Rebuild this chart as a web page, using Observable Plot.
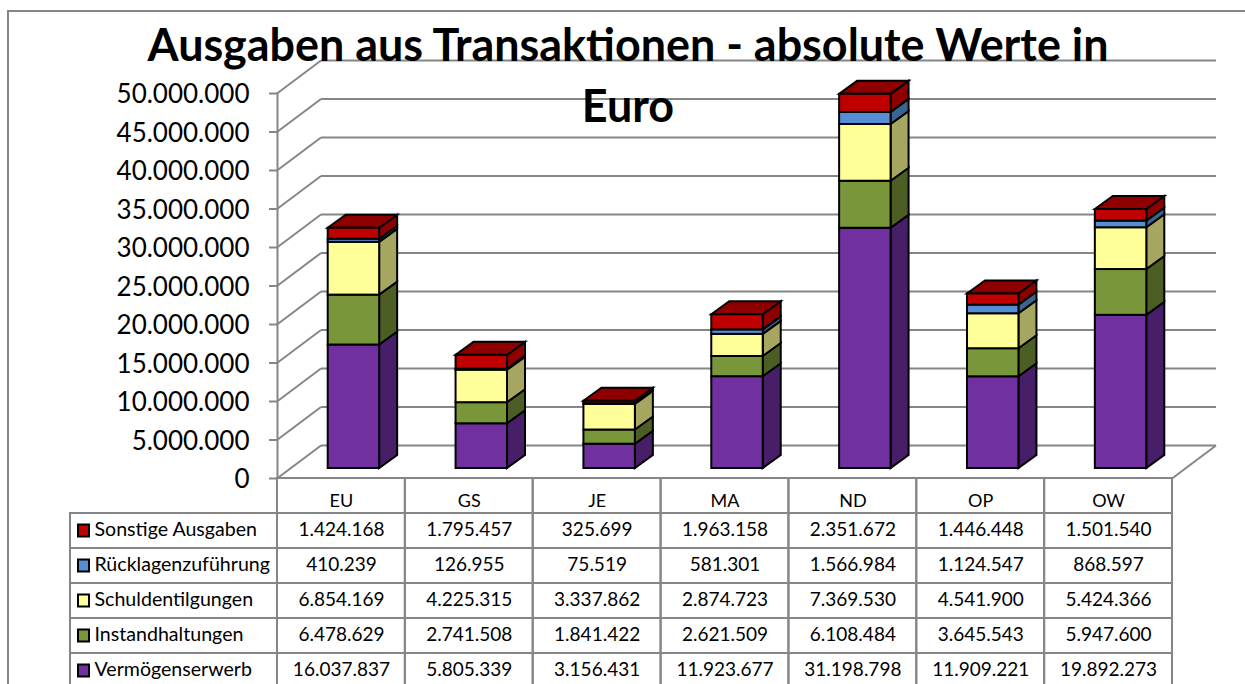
<!DOCTYPE html>
<html lang="de">
<head>
<meta charset="utf-8">
<title>Ausgaben aus Transaktionen</title>
<script src="https://cdn.jsdelivr.net/npm/d3@7"></script>
<script src="https://cdn.jsdelivr.net/npm/@observablehq/plot@0.6"></script>
<style>
html,body{margin:0;padding:0;background:#fff;overflow:hidden;}
#page{position:relative;width:1245px;height:684px;overflow:hidden;font-family:Lato,sans-serif;}
#page svg{display:block;}
#frame{position:absolute;left:7px;top:10px;width:1300px;height:700px;border:2px solid #868686;box-sizing:border-box;pointer-events:none;}
h1{position:absolute;left:68px;width:1120px;top:14px;margin:0;text-align:center;font:700 44.9px/61px Lato,sans-serif;color:#000;z-index:2;}
</style>
</head>
<body>
<div id="page">
<div id="frame"></div>
<h1>Ausgaben aus Transaktionen - absolute Werte in<br>Euro</h1>
<div id="chart"></div>
</div>
<script>
const categories = ["EU","GS","JE","MA","ND","OP","OW"];
const seriesBottomUp = ["Vermögenserwerb","Instandhaltungen","Schuldentilgungen","Rücklagenzuführung","Sonstige Ausgaben"];
const vermoegen = [16037837,5805339,3156431,11923677,31198798,11909221,19892273];
const instand   = [6478629,2741508,1841422,2621509,6108484,3645543,5947600];
const schulden  = [6854169,4225315,3337862,2874723,7369530,4541900,5424366];
const ruecklage = [410239,126955,75519,581301,1566984,1124547,868597];
const sonstige  = [1424168,1795457,325699,1963158,2351672,1446448,1501540];
const frontColors = ["#7030A0","#7A963B","#FFFF99","#558ED5","#C00000"];
const sideColors  = ["#471F69","#4C5E23","#A6A661","#3A6491","#8E0000"];
const yTicks = [0,5e6,10e6,15e6,20e6,25e6,30e6,35e6,40e6,45e6,50e6];

const columns = [vermoegen,instand,schulden,ruecklage,sonstige];
const long = seriesBottomUp.flatMap((s,i)=>categories.map((c,j)=>({series:s,category:c,value:columns[i][j],side:sideColors[i]})));
const de = d3.formatLocale({decimal:",",thousands:".",grouping:[3],currency:["","€"]}).format(",d");

const GRID="#868686", W=1245, AXIS_X=277, FLOOR_Y=478, TOP_Y=93, RIGHT=1172;
const wallDx=44, wallDy=-33, barDx=18, barDy=-13;
const bw=(RIGHT-AXIS_X)/categories.length;
const barInset={insetLeft:38.2,insetRight:38.2,dx:12.5,dy:-10};
const xScale={type:"band",domain:categories,padding:0,round:false,axis:null};

// turn each rendered rect (a front face) into a parallelogram
const poly=(shape,keep=()=>true)=>function(index,scales,values,dims,ctx,next){
  const g=next(index.filter(i=>keep(long[i])),scales,values,dims,ctx);
  d3.select(g).selectAll("rect").each(function(){
    const r=d3.select(this),x=+r.attr("x"),y=+r.attr("y"),w=+r.attr("width"),h=+r.attr("height");
    const p=document.createElementNS("http://www.w3.org/2000/svg","polygon");
    p.setAttribute("points",shape(x,y,w,h).join(" "));
    p.setAttribute("fill",r.attr("fill")||"");
    this.replaceWith(p);
  });
  return g;
};
const sideShape=(x,y,w,h)=>[[x+w,y],[x+w+barDx,y+barDy],[x+w+barDx,y+h+barDy],[x+w,y+h]];
const topShape=(x,y,w,h)=>[[x,y],[x+barDx,y+barDy],[x+w+barDx,y+barDy],[x+w,y]];
const obliqueRule=(xFront)=>function(index,scales,values,dims,ctx,next){
  const g=next(index,scales,values,dims,ctx);
  d3.select(g).selectAll("line").attr("x1",xFront).attr("x2",xFront+wallDx)
    .attr("y2",function(){return +d3.select(this).attr("y1")+wallDy;});
  return g;
};
const stackOpts={x:"category",y:"value",z:"series",order:null};

const main=Plot.plot({
  width:W,height:FLOOR_Y,
  marginLeft:AXIS_X,marginRight:W-RIGHT,marginTop:TOP_Y,marginBottom:0,
  style:{background:"transparent",overflow:"visible",fontFamily:"Lato,sans-serif"},
  x:xScale,
  y:{domain:[0,50e6],axis:null},
  color:{domain:seriesBottomUp,range:frontColors},
  marks:[
    Plot.ruleY(yTicks,{stroke:GRID,strokeWidth:2,dx:wallDx,dy:wallDy}),
    Plot.ruleY(yTicks,{stroke:GRID,strokeWidth:2,render:obliqueRule(AXIS_X)}),
    Plot.ruleY([0],{stroke:GRID,strokeWidth:2,render:obliqueRule(RIGHT)}),
    Plot.axisY({ticks:yTicks,tickFormat:null,text:null,anchor:"left",tickSize:8,stroke:GRID,strokeWidth:2,strokeOpacity:1,label:null}),
    Plot.axisY({ticks:yTicks,tickFormat:de,anchor:"left",tickSize:0,tickPadding:28,dy:1.5,fontSize:26,label:null,fill:"#000",color:"#000"}),
    Plot.ruleX([categories[0]],{x:d=>d,y1:0,y2:50e6,dx:-bw/2,stroke:GRID,strokeWidth:2}),
    Plot.barY(long,Plot.stackY({...stackOpts,...barInset,fill:"side",stroke:"#000",strokeWidth:2,render:poly(sideShape)})),
    Plot.barY(long,Plot.stackY({...stackOpts,...barInset,fill:"side",stroke:"#000",strokeWidth:2,render:poly(topShape,d=>d.series===seriesBottomUp[4])})),
    Plot.barY(long,Plot.stackY({...stackOpts,...barInset,fill:"series",stroke:"#000",strokeWidth:2}))
  ]
});

// table below the chart
const rowsTop=seriesBottomUp.slice().reverse();
const rowDomain=["Kategorie",...rowsTop];
const cells=rowsTop.flatMap(s=>long.filter(d=>d.series===s));
const LABEL_LEFT=70;
const table=Plot.plot({
  width:W,height:684-FLOOR_Y,
  marginLeft:AXIS_X,marginRight:W-RIGHT,marginTop:0,marginBottom:0,
  style:{background:"transparent",overflow:"visible",fontFamily:"Lato,sans-serif"},
  x:xScale,
  y:{type:"band",domain:rowDomain,range:[0,210],padding:0,round:false,axis:null},
  color:{domain:seriesBottomUp,range:frontColors},
  marks:[
    Plot.cell(cells,{x:"category",y:"series",fill:"none",stroke:GRID,strokeWidth:2}),
    Plot.cell(categories,{x:d=>d,y:()=>"Kategorie",fill:"none",stroke:GRID,strokeWidth:2}),
    Plot.cell(rowsTop,{x:()=>categories[0],y:d=>d,fill:"none",stroke:GRID,strokeWidth:2,insetLeft:LABEL_LEFT-AXIS_X,insetRight:bw}),
    Plot.cell(rowsTop,{x:()=>categories[0],y:d=>d,fill:d=>d,stroke:"#000",strokeWidth:2,insetLeft:78-AXIS_X,insetRight:bw+AXIS_X-89,insetTop:11.5,insetBottom:11.5}),
    Plot.text(rowsTop,{frameAnchor:"left",y:d=>d,text:d=>d,textAnchor:"start",dx:94-AXIS_X,fontSize:19.6,fill:"#000",dy:-1}),
    Plot.text(categories,{x:d=>d,y:()=>"Kategorie",text:d=>d,fontSize:18,fill:"#000",dy:5}),
    Plot.text(cells,{x:"category",y:"series",text:d=>de(d.value),fontSize:19,fill:"#000",dy:-1})
  ]
});
document.getElementById("chart").append(main,table);
</script>
</body>
</html>
